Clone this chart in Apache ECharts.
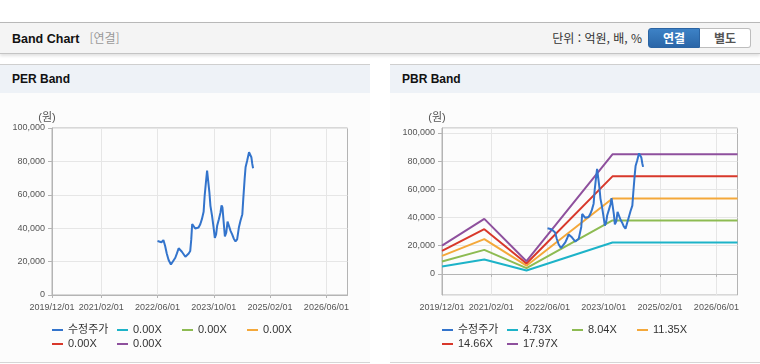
<!DOCTYPE html>
<html lang="ko">
<head>
<meta charset="utf-8">
<title>Band Chart</title>
<script src="https://cdn.jsdelivr.net/npm/echarts@6.0.0/dist/echarts.min.js"></script>
<style>
  html, body { margin: 0; padding: 0; }
  body { width: 760px; height: 364px; position: relative; overflow: hidden; background: #fff;
         font-family: "Noto Sans CJK KR", "Liberation Sans", sans-serif; }
  .bar { position: absolute; left: 0; top: 22px; width: 760px; height: 30px; line-height: 30px; background: #f4f4f4;
         border-top: 1px solid #b8b8b8; border-bottom: 1px solid #c4c4c4; box-shadow: 0 2px 3px rgba(0,0,0,0.12); }
  .bar .ttl { position: absolute; left: 12px; top: 0; font-family: "Liberation Sans", sans-serif; font-size: 12.5px; font-weight: bold; color: #111; }
  .bar .sub { font-family: "Noto Sans CJK KR", sans-serif; font-weight: normal; font-size: 12px; color: #999; margin-left: 10px; }
  .bar .unit { position: absolute; right: 118px; top: 0; font-size: 12px; color: #333; }
  .btns { position: absolute; left: 648px; top: 5px; height: 20px; display: flex; }
  .btn { width: 52px; height: 20px; line-height: 18px; text-align: center; font-size: 12px; font-weight: bold; box-sizing: border-box; }
  .on { background: linear-gradient(#3d82c6, #2a66a8); color: #fff; border: 1px solid #2b64a3; border-radius: 3px 0 0 3px; }
  .off { background: #fff; color: #555; border: 1px solid #bdbdbd; border-left: none; border-radius: 0 3px 3px 0; width: 51px; }
  .panel { position: absolute; top: 64px; width: 370px; height: 297px; background: #fcfcfc;
           border-top: 1px solid #cfcfcf; border-bottom: 1px solid #d6d6d6; }
  .panel .hd { height: 28px; line-height: 28px; background: #eef2f7; font-family: "Liberation Sans", sans-serif; font-size: 12px; font-weight: bold; color: #111; padding-left: 12px; }
  .panel .cv { width: 370px; height: 269px; }
</style>
</head>
<body>
<div class="bar">
  <span class="ttl">Band Chart<span class="sub">[연결]</span></span>
  <span class="unit">단위 : 억원, 배, %</span>
  <div class="btns"><div class="btn on">연결</div><div class="btn off">별도</div></div>
</div>
<div class="panel" style="left:0"><div class="hd">PER Band</div><div class="cv" id="per"></div></div>
<div class="panel" style="left:390px"><div class="hd">PBR Band</div><div class="cv" id="pbr"></div></div>
<script>
// x axis
var firstMonth = '2019/12/01';
var lastMonth = '2026/12/01';
var tickLabels = ['2019/12/01', '2021/02/01', '2022/06/01', '2023/10/01', '2025/02/01', '2026/06/01'];

// 수정주가
var priceDates = [
  '2022/06/01', '2022/06/18', '2022/07/05', '2022/07/22', '2022/08/06', '2022/08/20', '2022/09/05', '2022/09/25',
  '2022/10/12', '2022/11/02', '2022/11/16', '2022/12/01', '2022/12/15', '2022/12/29', '2023/01/14', '2023/01/28',
  '2023/02/12', '2023/02/26', '2023/03/11', '2023/03/20', '2023/03/28', '2023/04/09', '2023/04/23', '2023/05/08',
  '2023/05/22', '2023/06/06', '2023/06/20', '2023/07/05', '2023/07/14', '2023/07/25', '2023/08/04', '2023/08/15',
  '2023/08/24', '2023/09/02', '2023/09/16', '2023/10/01', '2023/10/10', '2023/10/21', '2023/10/30', '2023/11/14',
  '2023/11/28', '2023/12/07', '2023/12/15', '2023/12/27', '2024/01/05', '2024/01/17', '2024/01/28', '2024/02/09',
  '2024/02/23', '2024/03/08', '2024/03/22', '2024/04/06', '2024/04/20', '2024/05/05', '2024/05/19', '2024/06/04',
  '2024/06/12', '2024/06/24', '2024/07/02', '2024/07/16', '2024/08/01', '2024/08/09', '2024/08/21', '2024/08/29',
  '2024/09/05'
];
var priceValues = [
  32300, 31800, 31600, 32900, 29300, 24900, 21000, 18300,
  19300, 22300, 24900, 28000, 27300, 25900, 24900, 22900,
  23700, 24900, 26300, 33300, 42500, 41800, 39800, 39400,
  40400, 42400, 45400, 49800, 59400, 67500, 74500, 73500,
  61400, 53400, 47400, 39400, 34200, 36300, 41400, 45400,
  49400, 53700, 52400, 42400, 35100, 37300, 44000, 43400,
  38400, 36300, 33700, 32100, 33300, 40400, 44400, 48400,
  57400, 69500, 76500, 80500, 85500, 86400, 82500, 78500,
  75900
];

// PBR band (원)
var bandDates = ['2019/12/01', '2020/12/01', '2021/12/01', '2023/12/15', '2026/12/01'];
var pbrBand1 = [5200, 10200, 2400, 22300, 22300];
var pbrBand2 = [8800, 17000, 4100, 37900, 37900];
var pbrBand3 = [12800, 24600, 5800, 53500, 53500];
var pbrBand4 = [16300, 31700, 7400, 69200, 69200];
var pbrBand5 = [20000, 39000, 9000, 84800, 84800];
var pbrBandLabels = ['4.73X', '8.04X', '11.35X', '14.66X', '17.97X'];

// PER band: no values
var perBandLabels = ['0.00X', '0.00X', '0.00X', '0.00X', '0.00X'];

var priceColor = '#3374cc';
var bandColors = ['#1db3c8', '#8dbb52', '#f4a83a', '#d8382b', '#8e509d'];

var months = [];
(function () {
    var y = 2019, m = 12;
    while (true) {
        var s = y + '/' + (m < 10 ? '0' + m : m) + '/01';
        months.push(s);
        if (s === lastMonth) break;
        m++;
        if (m > 12) { m = 1; y++; }
    }
})();

function ts(s) { return +new Date(s); }
function pairs(dates, vals) {
    return dates.map(function (d, i) { return [ts(d), vals[i]]; });
}
function isTick(i, v) { return tickLabels.indexOf(v) >= 0; }
function fmt(v) { return v.toLocaleString('en-US'); }

var axisFont = "'Liberation Sans', sans-serif";
var legendFont = "'Liberation Sans', 'Noto Sans CJK KR', sans-serif";

function makeChart(id, bandLabels, bandData, yAxisOpt) {
    var series = [];
    bandLabels.forEach(function (lb, i) {
        series.push({
            name: lb + '#' + i,
            type: 'line',
            xAxisIndex: 1,
            symbol: 'none',
            color: bandColors[i],
            lineStyle: { width: 2, color: bandColors[i] },
            data: bandData ? pairs(bandDates, bandData[i]) : [],
            z: 2
        });
    });
    series.unshift({
        name: '수정주가',
        type: 'line',
        xAxisIndex: 1,
        symbol: 'none',
        color: priceColor,
        lineStyle: { width: 2, color: priceColor },
        data: pairs(priceDates, priceValues),
        z: 3
    });

    var chart = echarts.init(document.getElementById(id), null, { renderer: 'canvas' });
    chart.setOption({
        animation: false,
        grid: { left: 52, right: 22.5, top: 35, bottom: 67, show: true, borderColor: '#b4b4b4', borderWidth: 1 },
        legend: {
            left: 52, top: 230, width: 280, padding: 0, itemGap: 0,
            icon: 'rect', itemWidth: 11, itemHeight: 2,
            textStyle: { fontFamily: legendFont, fontSize: 11, color: '#333', width: 49, lineHeight: 14 },
            formatter: function (n) { return n.split('#')[0]; }
        },
        xAxis: [{
            type: 'category',
            data: months,
            boundaryGap: false,
            axisLine: { lineStyle: { color: '#b4b4b4' } },
            axisTick: { show: true, length: 3, interval: isTick, lineStyle: { color: '#b4b4b4' } },
            axisLabel: { interval: isTick, showMinLabel: true, hideOverlap: false, color: '#555', fontSize: 9, fontFamily: axisFont, margin: 8 },
            splitLine: { show: true, interval: isTick, lineStyle: { color: '#e6e6e6' } }
        }, {
            type: 'time',
            min: ts(firstMonth),
            max: ts(lastMonth),
            show: false
        }],
        yAxis: Object.assign({
            type: 'value',
            name: '(원)',
            nameLocation: 'end',
            nameGap: 5,
            nameTextStyle: { color: '#555', fontSize: 11, fontFamily: legendFont, align: 'center', padding: [0, 10, 0, 0] },
            axisLine: { show: true, lineStyle: { color: '#b4b4b4' } },
            axisTick: { show: true, length: 4, lineStyle: { color: '#b4b4b4' } },
            splitLine: { show: true, lineStyle: { color: '#e6e6e6' } }
        }, yAxisOpt),
        series: series
    });
    return chart;
}

makeChart('per', perBandLabels, null, {
    min: 0, max: 100000, interval: 20000,
    axisLabel: { color: '#555', fontSize: 9, fontFamily: axisFont, margin: 7, formatter: fmt }
});
makeChart('pbr', pbrBandLabels, [pbrBand1, pbrBand2, pbrBand3, pbrBand4, pbrBand5], {
    min: -15000, max: 103500,
    axisLabel: { color: '#555', fontSize: 9, fontFamily: axisFont, margin: 7, formatter: fmt, showMinLabel: false, showMaxLabel: false }
});
</script>
</body>
</html>
